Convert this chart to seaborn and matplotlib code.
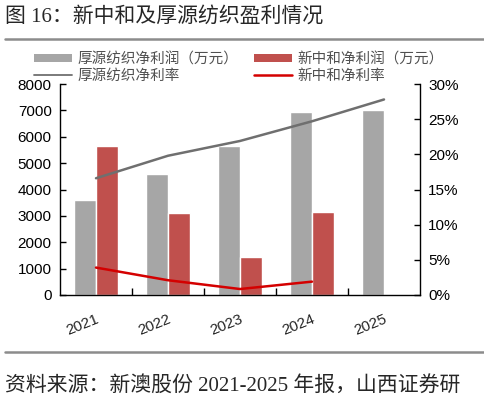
import numpy as np
import pandas as pd
import matplotlib
matplotlib.use("Agg")
import matplotlib.pyplot as plt
from matplotlib.lines import Line2D
from matplotlib.patches import Patch
import seaborn as sns

# --- data ---
years = ["2021", "2022", "2023", "2024", "2025"]
houyuan_profit = [3600, 4600, 5650, 6950, 7000]          # 厚源纺织净利润（万元）
xinzhonghe_profit = [5650, 3100, 1450, 3150, np.nan]     # 新中和净利润（万元）
houyuan_margin = [16.6, 19.8, 21.9, 24.7, 27.8]          # 厚源纺织净利率 %
xinzhonghe_margin = [3.9, 2.1, 0.85, 1.9]                # 新中和净利率 %

bar_names = ["厚源纺织净利润（万元）", "新中和净利润（万元）"]
line_names = ["厚源纺织净利率", "新中和净利率"]

GRAY_BAR = "#a6a6a6"
RED_BAR = "#c0504d"
GRAY_LINE = "#6f6f6f"
RED_LINE = "#d40000"

sns.set_theme(style="white")
plt.rcParams["font.family"] = ["Liberation Sans", "Noto Sans CJK SC", "DejaVu Sans"]

df = pd.DataFrame({
    "year": years * 2,
    "profit": houyuan_profit + xinzhonghe_profit,
    "series": [bar_names[0]] * len(years) + [bar_names[1]] * len(years),
})

fig = plt.figure(figsize=(4.85, 4.08), dpi=100)
ax = fig.add_axes([60 / 485, 113 / 408, 360 / 485, 211 / 408])

sns.barplot(data=df, x="year", y="profit", hue="series", order=years,
            palette=[GRAY_BAR, RED_BAR], width=0.6, saturation=1,
            legend=False, ax=ax)
ax.set_xlim(-0.5, len(years) - 0.5)
ax.set_ylim(0, 8000)
ax.set_yticks(range(0, 8001, 1000))
ax.set_xlabel("")
ax.set_ylabel("")

ax2 = ax.twinx()
xpos = np.arange(len(years))
sns.lineplot(x=xpos, y=houyuan_margin, color=GRAY_LINE, linewidth=1.8, ax=ax2)
sns.lineplot(x=xpos[:len(xinzhonghe_margin)], y=xinzhonghe_margin,
             color=RED_LINE, linewidth=1.8, ax=ax2)
ax2.set_ylim(0, 30)
ax2.set_yticks(range(0, 31, 5))
ax2.set_yticklabels([f"{v}%" for v in range(0, 31, 5)])
ax2.set_xlim(-0.5, len(years) - 0.5)

# spines / ticks
for a in (ax, ax2):
    a.spines["top"].set_visible(False)
    for s in ("left", "right", "bottom"):
        a.spines[s].set_color("#000000")
        a.spines[s].set_linewidth(1.0)
ax.spines["right"].set_visible(False)
ax2.spines["left"].set_visible(False)
ax2.spines["bottom"].set_visible(False)

ax.tick_params(axis="y", direction="in", length=4, width=1, left=True,
               labelsize=11, colors="#000000", pad=6)
ax2.tick_params(axis="y", direction="in", length=4, width=1, right=True,
                labelsize=11, colors="#000000", pad=6)
ax.set_xticks(xpos)
ax.set_xticklabels(years, rotation=22, ha="right", rotation_mode="anchor")
ax.tick_params(axis="x", length=0, labelsize=11, pad=12)
ax.set_xticks(xpos[:-1] + 0.5, minor=True)
ax.tick_params(axis="x", which="minor", direction="in", length=5, width=1,
               bottom=True, color="#000000")
ax.grid(False)
ax2.grid(False)

# legend
handles = [
    Patch(facecolor=GRAY_BAR, edgecolor="none", label=bar_names[0]),
    Line2D([], [], color=GRAY_LINE, linewidth=1.3, label=line_names[0]),
    Patch(facecolor=RED_BAR, edgecolor="none", label=bar_names[1]),
    Line2D([], [], color=RED_LINE, linewidth=1.8, label=line_names[1]),
]
leg = fig.legend(handles=handles, ncol=2, loc="upper left",
                 bbox_to_anchor=(27 / 485, 1 - 45 / 408), frameon=False,
                 fontsize=10.5, handlelength=2.6, handleheight=0.45,
                 columnspacing=1.1, labelspacing=0.15, handletextpad=0.35,
                 borderpad=0)
for t in leg.get_texts():
    t.set_color("#505050")

# title, rules, source
fig.text(5 / 485, 1 - 17 / 408, "图 16：新中和及厚源纺织盈利情况",
         fontsize=15, va="center", ha="left",
         family=["Liberation Serif", "Noto Sans CJK SC"])
fig.add_artist(Line2D([5 / 485, 1.0], [1 - 39 / 408] * 2,
                      color="#8c8c8c", linewidth=1.8))
fig.add_artist(Line2D([5 / 485, 1.0], [1 - 352 / 408] * 2,
                      color="#8c8c8c", linewidth=1.8))
fig.text(5 / 485, 1 - 386 / 408, "资料来源：新澳股份 2021-2025 年报，山西证券研",
         fontsize=15, va="center", ha="left",
         family=["Liberation Serif", "Noto Sans CJK SC"])

fig.savefig("out.png", dpi=100)
